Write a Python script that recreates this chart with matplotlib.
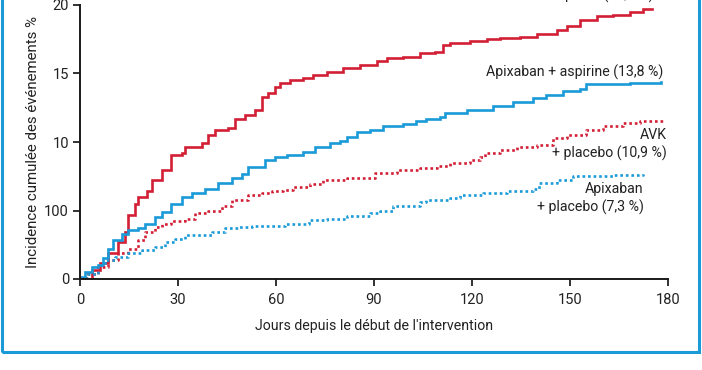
import matplotlib
matplotlib.use("Agg")
import matplotlib.pyplot as plt
from matplotlib.patches import Rectangle

plt.rcParams['font.family'] = ['Roboto', 'DejaVu Sans']

RED = '#d21f35'
BLUE = '#1b9ad8'

# AVK + aspirine
t_avk_asp = [0, 3.6, 6.1, 8.6, 11.7, 13.8, 14.8, 16.8, 17.9, 20.4, 21.9, 25, 28, 31.1, 32.1, 37.2, 39.3,
             41.3, 45.4, 47.4, 50.5, 53.6, 55.6, 57.6, 59.7, 61.2, 64.3, 68.3, 71.4, 75.5, 80.5, 85.7,
             90.8, 93.9, 99, 104, 108.7, 111.2, 113.3, 119.4, 124.5, 128.6, 134.7, 139.8, 145.9, 149,
             153, 158.2, 163.2, 168.4, 172.4, 175]
v_avk_asp = [0, 0.66, 1.2, 1.9, 2.7, 3.45, 4.7, 5.5, 6.0, 6.4, 7.2, 7.96, 9.05, 9.2, 9.66, 9.9, 10.5,
             10.9, 11.0, 11.7, 12.0, 12.3, 13.3, 13.55, 14.0, 14.3, 14.5, 14.7, 14.9, 15.1, 15.4, 15.6,
             15.9, 16.1, 16.2, 16.5, 16.6, 17.1, 17.25, 17.4, 17.5, 17.6, 17.7, 17.9, 18.2, 18.5,
             18.9, 19.2, 19.3, 19.5, 19.7, 19.7]

# Apixaban + aspirine
t_api_asp = [0, 1.5, 3.6, 5.6, 7.1, 8.7, 10.2, 12.8, 14.8, 17.9, 19.9, 23, 25, 28, 31.1, 34.2, 38.3,
             42.3, 46.4, 49.5, 51.5, 56.6, 59.7, 63.3, 68.4, 71.9, 76.5, 79.6, 81.6, 84.7, 88.8, 92.8,
             99, 103, 106, 110.2, 111.7, 118.4, 122.4, 126.5, 132.6, 138.8, 142.8, 147.9, 153, 155,
             163.2, 168.4, 178]
v_api_asp = [0.17, 0.53, 0.9, 1.0, 1.5, 2.2, 2.85, 3.3, 3.6, 3.7, 4.05, 4.55, 4.9, 5.5, 6.0, 6.25, 6.6,
             7.0, 7.35, 7.7, 8.2, 8.7, 8.9, 9.05, 9.3, 9.66, 9.95, 10.1, 10.4, 10.75, 10.9, 11.2,
             11.3, 11.55, 11.7, 11.8, 12.1, 12.3, 12.35, 12.6, 12.9, 13.2, 13.4, 13.7, 13.9, 14.2,
             14.2, 14.3, 14.35]

# AVK + placebo
t_avk_pla = [0, 2.5, 5.6, 8.7, 11.7, 14.8, 17.9, 19.9, 23, 25, 28, 32.1, 35.2, 39.3, 43.4, 46.4, 51.5,
             55.6, 58.7, 62.2, 65.3, 70.4, 74.5, 81.6, 88.8, 90.3, 96.9, 104, 109.2, 113.3, 119.4,
             122.4, 124, 128.6, 133.7, 139.8, 144.9, 149, 155, 160.2, 166.3, 171.4, 179]
v_avk_pla = [0.05, 0.4, 0.9, 1.4, 1.9, 2.2, 2.85, 3.45, 3.8, 4.05, 4.2, 4.4, 4.8, 5.0, 5.3, 5.8, 6.1,
             6.25, 6.4, 6.5, 6.7, 6.9, 7.2, 7.35, 7.4, 7.75, 7.96, 8.1, 8.25, 8.5, 8.7,
             8.9, 9.2, 9.4, 9.6, 9.8, 10.3, 10.5, 10.9, 11.2, 11.4, 11.5, 11.5]

# Apixaban + placebo
t_api_pla = [0, 2.5, 5.6, 7.7, 10.7, 14.8, 18.9, 23, 26, 29.1, 32.1, 40.3, 44.4, 48.5, 52.6, 62.8,
             68.4, 70, 75.5, 81.6, 88.8, 91.8, 95.9, 104, 106, 113.3, 116.3, 123.5, 130.6, 138.8,
             140.4, 146, 151, 163.2, 172.4]
v_api_pla = [0.05, 0.4, 1.0, 1.4, 1.6, 1.9, 2.1, 2.35, 2.7, 2.95, 3.2, 3.45, 3.7, 3.8, 3.9, 4.0,
             4.05, 4.3, 4.4, 4.6, 4.8, 5.0, 5.3, 5.65, 5.8, 5.9, 6.1, 6.3, 6.4, 6.6,
             7.0, 7.2, 7.5, 7.6, 7.65]

x_ticks = [0, 30, 60, 90, 120, 150, 180]
y_ticks = [0, 5, 10, 15, 20]
y_tick_labels = ['0', '100', '10', '15', '20']

labels = ['AVK + aspirine (18,7 %)', 'Apixaban + aspirine (13,8 %)',
          'AVK\n+ placebo (10,9 %)', 'Apixaban\n+ placebo (7,3 %)']

W, H = 702, 370
fig = plt.figure(figsize=(W / 100, H / 100), dpi=100)
ax = fig.add_axes([80 / W, 1 - 279 / H, 588 / W, 274 / H])

ax.plot(t_avk_asp, v_avk_asp, drawstyle='steps-post', color=RED, lw=1.9, solid_joinstyle='miter')
ax.plot(t_api_asp, v_api_asp, drawstyle='steps-post', color=BLUE, lw=1.9, solid_joinstyle='miter')
ax.plot(t_avk_pla, v_avk_pla, drawstyle='steps-post', color=RED, lw=1.9, linestyle=(0, (1.0, 1.1)))
ax.plot(t_api_pla, v_api_pla, drawstyle='steps-post', color=BLUE, lw=1.9, linestyle=(0, (1.0, 1.1)))

TXT = '#222222'
FS = 10.2
ax.set_xlim(0, 180)
ax.set_ylim(0, 20)
ax.set_xticks(x_ticks)
ax.set_yticks(y_ticks)
ax.set_yticklabels(y_tick_labels)
ax.tick_params(axis='both', direction='out', length=5, width=1.3, labelsize=10.5, colors=TXT, pad=3)
ax.tick_params(axis='x', pad=5)
for s in ['top', 'right']:
    ax.spines[s].set_visible(False)
for s in ['left', 'bottom']:
    ax.spines[s].set_linewidth(1.4)
    ax.spines[s].set_color('#1a1a1a')
ax.set_xlabel("Jours depuis le début de l'intervention", fontsize=10.2, color=TXT, labelpad=9)
ax.set_ylabel('Incidence cumulée des événements %', fontsize=10.8, color=TXT, labelpad=3)

ax.text(175.5, 20.38, labels[0], ha='right', va='baseline', fontsize=FS, color=TXT, clip_on=False)
ax.text(178.5, 15.1, labels[1], ha='right', va='center', fontsize=FS, color=TXT)
ax.text(179.5, 9.8, labels[2], ha='right', va='center', fontsize=FS, color=TXT,
        linespacing=1.3, multialignment='right')
ax.text(172.5, 5.9, labels[3], ha='right', va='center', fontsize=FS, color=TXT,
        linespacing=1.3, multialignment='right')

frame = Rectangle((2 / W, 1 - 352 / H), 697 / W, 1.2, transform=fig.transFigure,
                  fill=False, edgecolor=BLUE, lw=2.2, clip_on=False)
fig.patches.append(frame)

fig.savefig('out.png', dpi=100)
